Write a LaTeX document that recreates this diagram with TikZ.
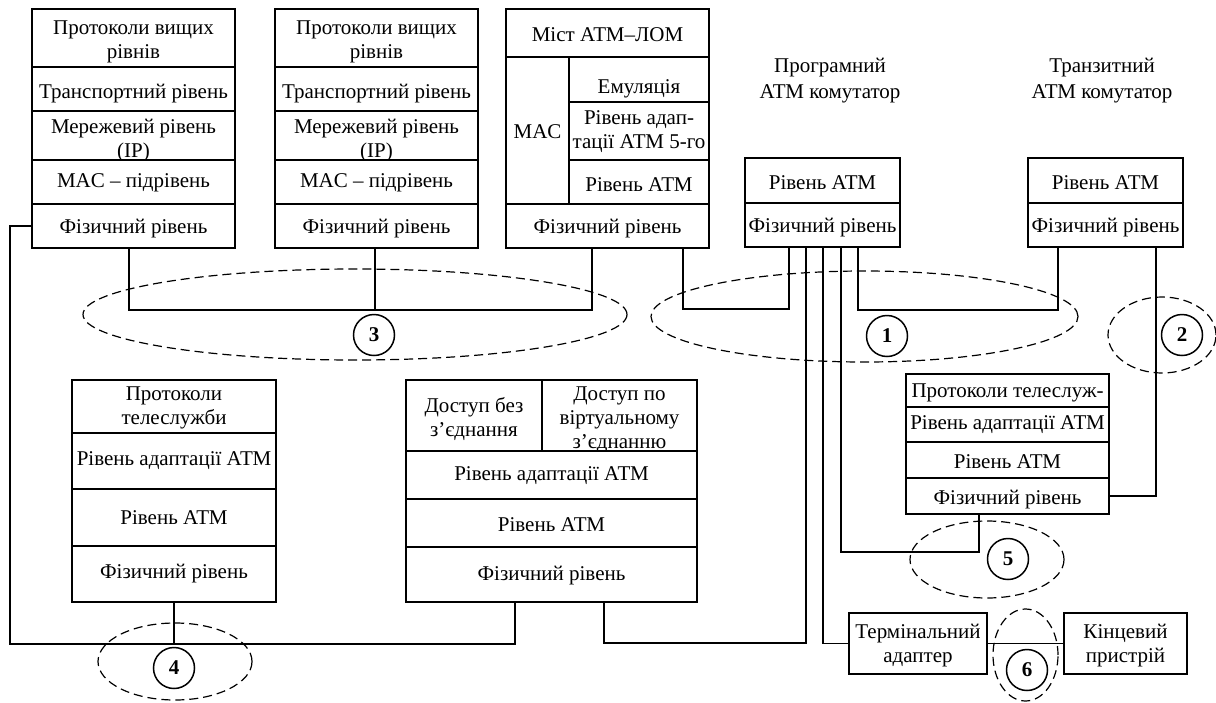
\documentclass[tikz,border=0pt]{standalone}
\usepackage{fontspec}
\setmainfont{Liberation Serif}
\usetikzlibrary{shapes.geometric}
\tikzset{
  cell/.style={draw, line width=1.5pt, fill=white, inner sep=0pt, outer sep=0pt, rectangle},
  celltext/.style={anchor=center, draw=none, fill=none, align=center, inner sep=0pt, minimum width=0pt, minimum height=0pt, font=\fontsize{21}{24}\selectfont},
  wire/.style={line width=1.6pt},
  zone/.style={draw, dash pattern=on 9pt off 5pt, line width=1.2pt, ellipse, inner sep=0pt},
  num/.style={draw, circle, line width=1.5pt, minimum size=41pt, inner sep=0pt, fill=white, font=\fontsize{21}{24}\selectfont\bfseries},
  title/.style={align=center, inner sep=0pt, font=\fontsize{21}{26}\selectfont}
}
\newcommand\cellbox[7]{%
  \node[cell, anchor=north west, minimum width={#4pt-#2pt}, minimum height={#5pt-#3pt},
    path picture={\node[celltext, yshift=-#7pt] (#1t) at (path picture bounding box.center) {#6};}]
    (#1) at (#2,#3) {};}
\begin{document}
\begin{tikzpicture}[x=1pt, y=-1pt]
\useasboundingbox (0,0) rectangle (1216,702);
% Stack 1
\cellbox{s1a}{32}{9}{235}{67}{Протоколи вищих\\рівнів}{4}
\cellbox{s1b}{32}{67}{235}{111}{Транспортний рівень}{5}
\cellbox{s1c}{32}{111}{235}{160}{Мережевий рівень\\(IP)}{5}
\cellbox{s1d}{32}{160}{235}{204}{MAC – підрівень}{1}
\cellbox{s1f}{32}{204}{235}{248}{Фізичний рівень}{3}
% Stack 2
\cellbox{s2a}{275}{9}{478}{67}{Протоколи вищих\\рівнів}{4}
\cellbox{s2b}{275}{67}{478}{111}{Транспортний рівень}{5}
\cellbox{s2c}{275}{111}{478}{160}{Мережевий рівень\\(IP)}{5}
\cellbox{s2d}{275}{160}{478}{204}{MAC – підрівень}{1}
\cellbox{s2f}{275}{204}{478}{248}{Фізичний рівень}{3}
% Bridge
\cellbox{bra}{506}{9}{709}{57}{Міст АТМ–ЛОМ}{2}
\cellbox{brm}{506}{57}{569}{204}{MAC}{1}
\cellbox{bre}{569}{57}{709}{102}{Емуляція\\ЛОМ}{19}
\cellbox{brl}{569}{102}{709}{160}{Рівень адап-\\тації АТМ 5-го}{1}
\cellbox{brt}{569}{160}{709}{204}{Рівень АТМ}{3}
\cellbox{brf}{506}{204}{709}{248}{Фізичний рівень}{3}
% Programmable switch
\node[title] (pswtitle) at (830,81) {Програмний\\АТМ комутатор};
\cellbox{pswa}{745}{158}{900}{203}{Рівень АТМ}{2}
\cellbox{pswf}{745}{203}{900}{247}{Фізичний рівень}{3}
% Transit switch
\node[title] (trtitle) at (1102,81) {Транзитний\\АТМ комутатор};
\cellbox{tra}{1028}{158}{1183}{203}{Рівень АТМ}{2}
\cellbox{trf}{1028}{203}{1183}{247}{Фізичний рівень}{3}
% Stack 4a
\cellbox{s4aa}{72}{380}{276}{433}{Протоколи\\телеслужби}{1}
\cellbox{s4ab}{72}{433}{276}{489}{Рівень адаптації АТМ}{0}
\cellbox{s4ac}{72}{489}{276}{546}{Рівень АТМ}{0}
\cellbox{s4af}{72}{546}{276}{602}{Фізичний рівень}{0}
% Stack 4b
\cellbox{s4bx}{406}{380}{542}{451}{Доступ без\\з’єднання}{4}
\cellbox{s4by}{542}{380}{697}{451}{Доступ по\\віртуальному\\з’єднанню}{4}
\cellbox{s4bb}{406}{451}{697}{499}{Рівень адаптації АТМ}{1}
\cellbox{s4bc}{406}{499}{697}{547}{Рівень АТМ}{2}
\cellbox{s4bf}{406}{547}{697}{602}{Фізичний рівень}{1}
% Stack 5
\cellbox{s5a}{906}{374}{1109}{407}{Протоколи телеслуж-\\би}{12}
\cellbox{s5b}{906}{407}{1109}{442}{Рівень адаптації АТМ}{0}
\cellbox{s5c}{906}{442}{1109}{478}{Рівень АТМ}{2}
\cellbox{s5f}{906}{478}{1109}{514}{Фізичний рівень}{4}
% Terminal adapter and end device
\cellbox{ta}{849}{613}{987}{674}{Термінальний\\адаптер}{2}
\cellbox{ed}{1064}{613}{1187}{674}{Кінцевий\\пристрій}{2}
% junction coordinates
\coordinate (L1) at (10,644);
\coordinate (b3) at (375,310);
\coordinate (c1) at (736,309);
\coordinate (c2) at (958,310);
\coordinate (c5) at (910,552);
\coordinate (c4) at (700,643);
% connectors
\draw[wire] (s1f.west) -| (L1) -| (s4bf.south -| 515,0);
\draw[wire] (s4af.south) -- (s4af.south |- L1);
\draw[wire] (s1f.south -| 129,0) |- (b3) -| (brf.south -| 592,0);
\draw[wire] (s2f.south -| 375,0) -- (b3);
\draw[wire] (brf.south -| 683,0) |- (c1) -| (pswf.south -| 789,0);
\draw[wire] (pswf.south -| 858,0) |- (c2) -| (trf.south -| 1058,0);
\draw[wire] (trf.south -| 1156,0) |- (s5f.east);
\draw[wire] (pswf.south -| 841,0) |- (c5) -| (s5f.south -| 979,0);
\draw[wire] (pswf.south -| 823,0) |- (ta.west);
\draw[wire] (pswf.south -| 806,0) |- (c4) -| (s4bf.south -| 604,0);
\draw[wire] (ta.east) -- (ed.west);
% dashed zones
\node[zone, minimum width=544pt, minimum height=91pt] (z3) at (355,314.5) {};
\node[zone, minimum width=427pt, minimum height=91pt] (z1) at (864.5,316.5) {};
\node[zone, minimum width=108pt, minimum height=76pt] (z2) at (1162,335) {};
\node[zone, minimum width=154pt, minimum height=77pt] (z5) at (987,559.5) {};
\node[zone, minimum width=154pt, minimum height=77pt] (z4) at (175,661.5) {};
\node[zone, minimum width=65pt, minimum height=92pt] (z6) at (1025.5,655) {};
% numbers
\node[num] (n1) at (887,336) {1};
\node[num] (n2) at (1182,335) {2};
\node[num] (n3) at (374,335) {3};
\node[num] (n4) at (174,668) {4};
\node[num] (n5) at (1008,559) {5};
\node[num] (n6) at (1027,670) {6};
\end{tikzpicture}
\end{document}
